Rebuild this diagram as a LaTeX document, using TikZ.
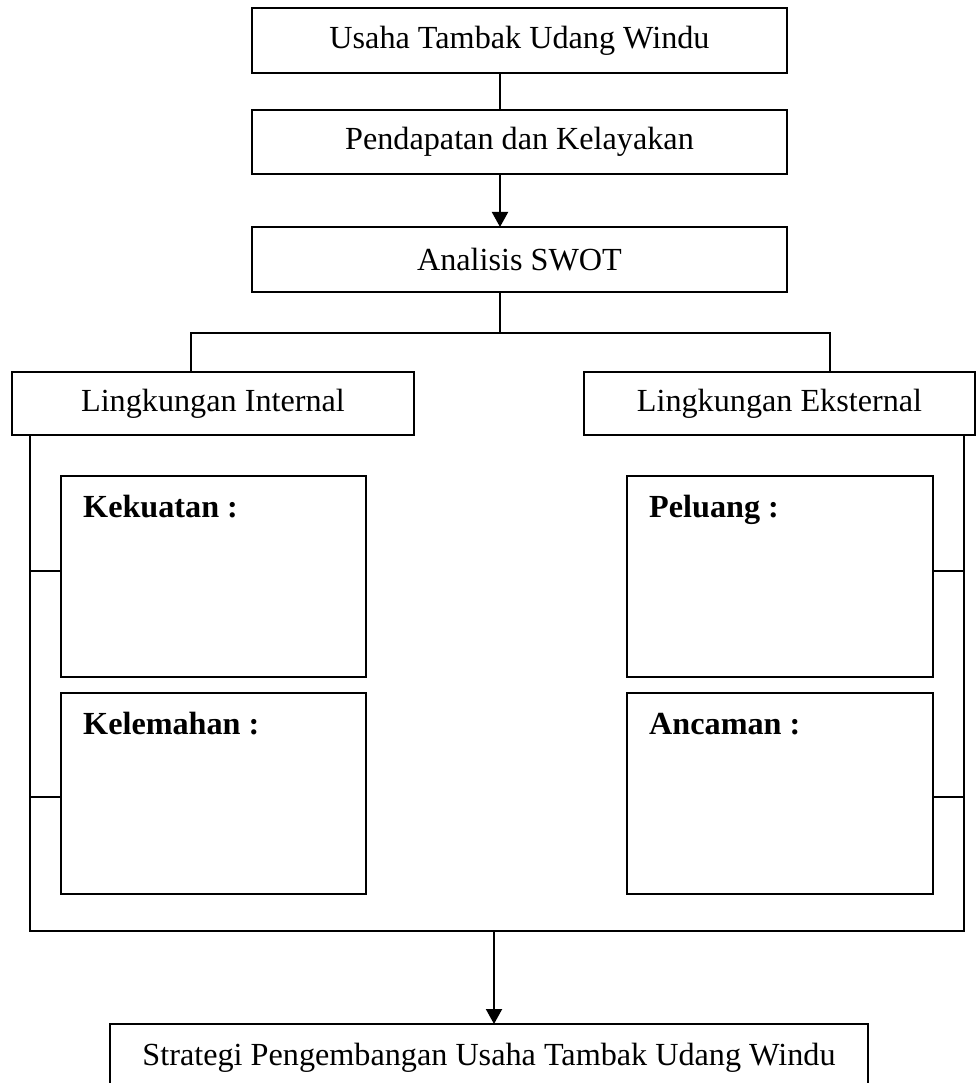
\documentclass[tikz,border=0pt]{standalone}
\usepackage{fontspec}
\setmainfont{Liberation Serif}
\usetikzlibrary{arrows.meta}
\tikzset{
  ln/.style={line width=2pt, line cap=rect},
  arr/.style={line width=2pt, -{Triangle[length=15pt,width=16pt]}},
  boxnode/.style={draw, line width=2pt, inner sep=0pt, align=center, font=\fontsize{32.2}{37}\selectfont},
  plainbox/.style={draw, line width=2pt, inner sep=0pt},
  lbl/.style={anchor=base west, inner sep=0pt, font=\fontsize{32.2}{37}\selectfont\bfseries}
}
\begin{document}
\begin{tikzpicture}[x=1pt,y=-1pt]
\useasboundingbox (0,0) rectangle (977,1083);
\clip (0,0) rectangle (977,1083);
% main chain
\node[boxnode, minimum width=535pt, minimum height=65pt] (usaha) at (519.5,40.5) {Usaha Tambak Udang Windu};
\node[boxnode, minimum width=535pt, minimum height=64pt] (pend) at (519.5,142) {Pendapatan dan Kelayakan};
\node[boxnode, minimum width=535pt, minimum height=65pt] (swot) at (519.5,259.5) {Analisis SWOT};
\coordinate (u1) at (500,73);
\coordinate (p0) at (500,110);
\coordinate (p1) at (500,174);
\coordinate (s0) at (500,227);
\coordinate (s1) at (500,292);
\coordinate (jn) at (500,333);
\draw[ln] (u1) -- (p0);
\draw[arr] (p1) -- (s0);
\draw[ln] (s1) -- (jn);
% internal / external
\node[boxnode, minimum width=402pt, minimum height=63pt] (int) at (213,403.5) {Lingkungan Internal};
\node[boxnode, minimum width=391pt, minimum height=63pt] (ext) at (779.5,403.5) {Lingkungan Eksternal};
\coordinate (jl) at (191,333);
\coordinate (jr) at (830,333);
\draw[ln] (191,372) -- (jl) -- (jr) -- (830,372);
% SWOT boxes
\node[plainbox, minimum width=305pt, minimum height=201pt] (kek) at (213.5,576.5) {};
\node[plainbox, minimum width=305pt, minimum height=201pt] (kel) at (213.5,793.5) {};
\node[plainbox, minimum width=306pt, minimum height=201pt] (pel) at (780,576.5) {};
\node[plainbox, minimum width=306pt, minimum height=201pt] (anc) at (780,793.5) {};
\node[lbl] (kekl) at (83,517) {Kekuatan :};
\node[lbl] (kell) at (83,734) {Kelemahan :};
\node[lbl] (pell) at (649,517) {Peluang :};
\node[lbl] (ancl) at (649,734) {Ancaman :};
% outer frame
\coordinate (fl) at (30,435);
\coordinate (fbl) at (30,931);
\coordinate (fbr) at (964,931);
\coordinate (fr) at (964,435);
\draw[ln] (fl) -- (fbl) -- (fbr) -- (fr);
\draw[ln] (30,571) -- (kek.west |- 30,571);
\draw[ln] (30,797) -- (kel.west |- 30,797);
\draw[ln] (pel.east |- 964,571) -- (964,571);
\draw[ln] (anc.east |- 964,797) -- (964,797);
% final
\node[boxnode, minimum width=758pt, minimum height=67pt] (strat) at (489,1057.5) {Strategi Pengembangan Usaha Tambak Udang Windu};
\coordinate (fb) at (494,931);
\draw[arr] (fb) -- (494,1024);
\end{tikzpicture}
\end{document}
